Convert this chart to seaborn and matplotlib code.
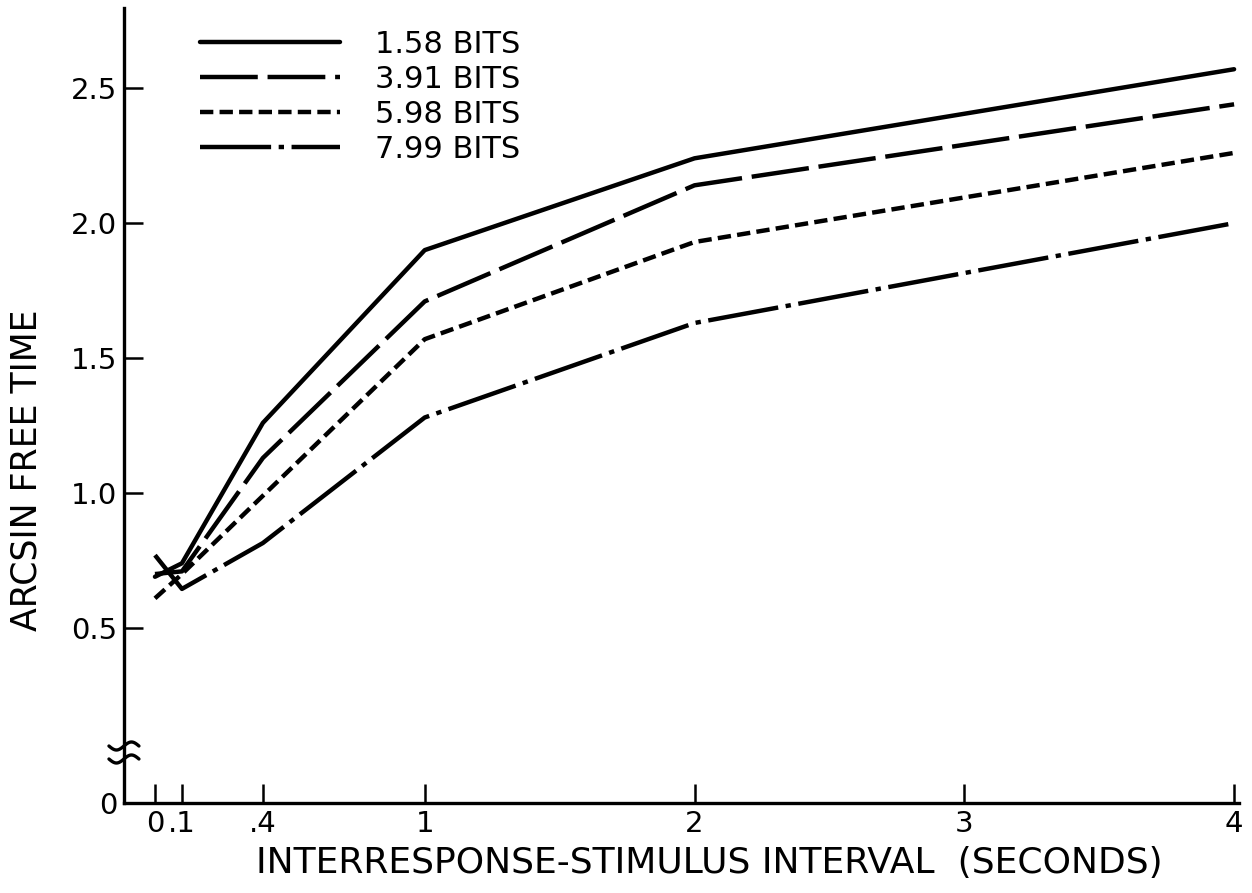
import numpy as np
import pandas as pd
import seaborn as sns
import matplotlib
matplotlib.use("Agg")
import matplotlib.pyplot as plt

# values
intervals = [0, 0.1, 0.4, 1, 2, 4]
bits_158 = [0.69, 0.74, 1.26, 1.90, 2.24, 2.57]
bits_391 = [0.70, 0.71, 1.13, 1.71, 2.14, 2.44]
bits_598 = [0.61, 0.70, 0.99, 1.57, 1.93, 2.26]
bits_799 = [0.77, 0.645, 0.815, 1.28, 1.63, 2.00]
series_labels = ["1.58 BITS", "3.91 BITS", "5.98 BITS", "7.99 BITS"]

x_ticks = [0, 0.1, 0.4, 1, 2, 3, 4]
x_ticklabels = ["0", ".1", ".4", "1", "2", "3", "4"]
y_ticks = [0.5, 1.0, 1.5, 2.0, 2.5]
y_ticklabels = ["0.5", "1.0", "1.5", "2.0", "2.5"]
y_bottom = -0.148  # broken axis: bottom of axis is labelled 0

df = pd.DataFrame({
    "interval": intervals * 4,
    "arcsin": bits_158 + bits_391 + bits_598 + bits_799,
    "bits": np.repeat(series_labels, len(intervals)),
})

sns.set_style("ticks")
plt.rcParams["font.family"] = ["DejaVu Sans"]
plt.rcParams["text.color"] = "black"
plt.rcParams["axes.labelcolor"] = "black"

fig = plt.figure(figsize=(12.52, 8.93), dpi=100)
ax = fig.add_axes([0.099, 0.1008, 0.891, 0.89])

dash_styles = {
    "1.58 BITS": "",
    "3.91 BITS": (13, 2.2),
    "5.98 BITS": (3, 1.4),
    "7.99 BITS": (16, 1.7, 1.2, 1.7),
}
sns.lineplot(data=df, x="interval", y="arcsin", style="bits",
             style_order=series_labels, dashes=dash_styles, color="black",
             linewidth=3.2, ax=ax, legend=True)
for line in ax.get_lines():
    line.set_dash_capstyle("butt")
    line.set_solid_capstyle("round")

ax.set_xlim(-0.115, 4.02)
ax.set_ylim(y_bottom, 2.796)
ax.set_xticks(x_ticks)
ax.set_xticklabels(x_ticklabels)
ax.set_yticks([y_bottom] + y_ticks)
ax.set_yticklabels(["0"] + y_ticklabels)
ax.tick_params(direction="in", length=14, width=1.8, labelsize=21, pad=5,
               colors="black")

sns.despine(ax=ax)
for side in ["left", "bottom"]:
    ax.spines[side].set_linewidth(2.4)
    ax.spines[side].set_color("black")

ax.set_xlabel("INTERRESPONSE-STIMULUS INTERVAL  (SECONDS)", fontsize=26)
ax.set_ylabel("ARCSIN FREE TIME", fontsize=25)
ax.xaxis.set_label_coords(0.525, -0.054)
ax.yaxis.set_label_coords(-0.072, 0.419)

# axis break mark on the y axis
px_w, px_h = 1.0 / 1116, 1.0 / 795
t = np.linspace(-1, 1, 60)
for off in (57, 44):
    ax.plot(t * 15 * px_w, (off + 4 * np.sin(t * np.pi)) * px_h,
            color="black", lw=2.4, transform=ax.transAxes, clip_on=False)

handles, labels = ax.get_legend_handles_labels()
for h in handles:
    h.set_linewidth(3.2)
    h.set_color("black")
ax.legend(handles, labels, loc="upper left", bbox_to_anchor=(0.068, 0.973),
          frameon=False, fontsize=22, handlelength=4.6, handletextpad=1.15,
          labelspacing=0.2, borderpad=0, borderaxespad=0)

fig.savefig("out.png", dpi=100)
